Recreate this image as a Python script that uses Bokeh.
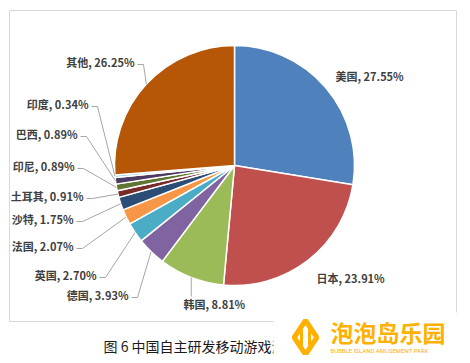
import math
from bokeh.plotting import figure
from bokeh.models import Range1d, ColumnDataSource
from bokeh.core.properties import value
from bokeh.embed import file_html
from bokeh.resources import INLINE

# ---- data ----
countries = ["美国", "日本", "韩国", "德国", "英国", "法国", "沙特", "土耳其", "印尼", "巴西", "印度", "其他"]
shares = [27.55, 23.91, 8.81, 3.93, 2.70, 2.07, 1.75, 0.91, 0.89, 0.89, 0.34, 26.25]
caption = "图 6 中国自主研发移动游戏海外市场收入分布"

# ---- style / layout ----
colors = ["#4F81BD", "#C0504D", "#9BBB59", "#8064A2", "#4BACC6", "#F79646",
          "#2C4D75", "#772C2A", "#5F7530", "#4D3B62", "#8FC9DA", "#B65708"]
# label anchor (image px x, image px y centre, align, leader type)
lab_x = [335, 316, 183, 128, 96, 73, 73, 83, 74, 77, 88, 134]
lab_y = [75, 277, 303, 294, 274, 245, 218, 195, 165, 133, 103, 61]
lab_al = ["left", "left", "left", "right", "right", "right", "right", "right", "right", "right", "right", "right"]
leader = ["none", "none", "vert", "elbow", "elbow", "elbow", "elbow", "elbow", "elbow", "elbow", "elbow", "elbow"]

W, H = 462, 355
def Y(img_y):
    return H - img_y

CX, CY, R = 234, Y(165), 120

p = figure(width=W, height=H, x_range=Range1d(0, W), y_range=Range1d(0, H),
           output_backend="svg", toolbar_location=None, min_border=0)
p.axis.visible = False
p.grid.visible = False
p.outline_line_color = None
p.background_fill_color = "white"

# chart frame
p.quad(left=9, right=456, top=Y(10), bottom=Y(321), fill_color=None,
       line_color="#D9D9D9", line_width=1)

# wedges
total = sum(shares)
starts, ends, mids = [], [], []
cum = 0.0
for s in shares:
    a0 = math.pi / 2 - cum / total * 2 * math.pi
    cum += s
    a1 = math.pi / 2 - cum / total * 2 * math.pi
    starts.append(a0)
    ends.append(a1)
    mids.append((a0 + a1) / 2)

src = ColumnDataSource(dict(start=starts, end=ends, color=colors))
p.wedge(x=CX, y=CY, radius=R, start_angle="start", end_angle="end", direction="clock",
        fill_color="color", line_color="white", line_width=1.5, source=src)

# leader lines
xs, ys = [], []
for i in range(len(countries)):
    px = CX + R * math.cos(mids[i])
    py = CY + R * math.sin(mids[i])
    if leader[i] == "elbow":
        lx = lab_x[i] + 3
        ly = Y(lab_y[i] + 3)
        xs.append([lx, lx + 6, px])
        ys.append([ly, ly, py])
    elif leader[i] == "vert":
        xs.append([px, px])
        ys.append([py, Y(lab_y[i] - 7)])
p.multi_line(xs=xs, ys=ys, line_color="#A6A6A6", line_width=1)

# labels
labels = [f"{c}, {s:.2f}%" for c, s in zip(countries, shares)]
lsrc = ColumnDataSource(dict(x=lab_x, y=[Y(v) for v in lab_y], t=labels, al=lab_al))
p.text(x="x", y="y", text="t", text_align="al", text_baseline="middle",
       text_font=value("Noto Sans CJK SC"), text_font_style="bold",
       text_font_size="11px", text_color="#404040", source=lsrc)

# caption
p.text(x=[103], y=[Y(345)], text=[caption], text_align="left", text_baseline="middle",
       text_font=value("Noto Sans CJK SC"), text_font_size="14px", text_color="#1a1a1a")

# watermark box
p.quad(left=273, right=W, top=Y(312), bottom=0, fill_color="white", line_color=None)
p.scatter(x=[305], y=[Y(337)], marker="diamond", size=34, fill_color=None,
          line_color="#FFB000", line_width=5)
p.segment(x0=[301, 309], y0=[Y(329), Y(329)], x1=[301, 309], y1=[Y(345), Y(345)],
          line_color="#FFB000", line_width=3)
p.text(x=[330], y=[Y(331)], text=["泡泡岛乐园"], text_align="left", text_baseline="middle",
       text_font=value("Noto Sans CJK SC"), text_font_style="bold",
       text_font_size="23px", text_color="#FFB000")
p.text(x=[330], y=[Y(350)], text=["BUBBLE ISLAND AMUSEMENT PARK"], text_align="left",
       text_baseline="middle", text_font=value("Roboto"), text_font_size="6px",
       text_color="#FFB000")

open("out.html", "w").write(file_html(p, INLINE))
